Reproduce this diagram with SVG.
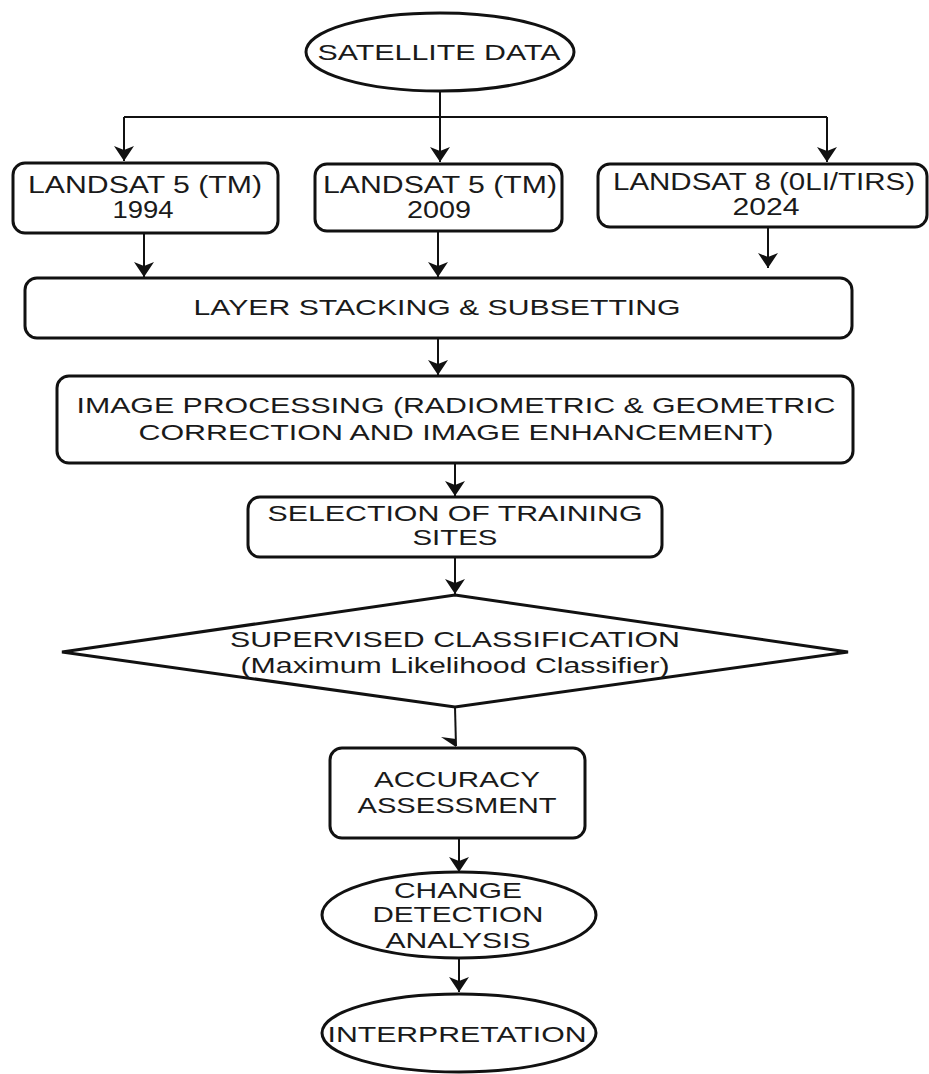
<svg xmlns="http://www.w3.org/2000/svg" width="929" height="1074" viewBox="0 0 929 1074">
<style>
.shape{fill:#fff;stroke:#111;stroke-width:3}
.conn{fill:none;stroke:#111;stroke-width:2}
text{font-family:"Liberation Sans",Arial,sans-serif;font-size:22px;fill:#1a1a1a;text-anchor:middle}
.big{font-size:23px}
</style>
<defs>
<marker id="arr" markerUnits="userSpaceOnUse" viewBox="0 0 15 20" refX="15" refY="10" markerWidth="15" markerHeight="20" orient="auto">
<path d="M0,0 L15,10 L0,20 L4,10 Z" fill="#111"/>
</marker>
</defs>
<rect width="929" height="1074" fill="#fff"/>
<g id="connectors">
<path class="conn" d="M440,91 V162" marker-end="url(#arr)"/>
<path class="conn" d="M124,117 H827"/>
<path class="conn" d="M124,117 V161" marker-end="url(#arr)"/>
<path class="conn" d="M827,117 V162" marker-end="url(#arr)"/>
<path class="conn" d="M144,233 V277" marker-end="url(#arr)"/>
<path class="conn" d="M438,231 V277" marker-end="url(#arr)"/>
<path class="conn" d="M768,227 V268" marker-end="url(#arr)"/>
<path class="conn" d="M438,338 V375" marker-end="url(#arr)"/>
<path class="conn" d="M455,463 V496" marker-end="url(#arr)"/>
<path class="conn" d="M455,557 V594" marker-end="url(#arr)"/>
<path class="conn" d="M455,707 L456,746"/>
<polygon points="441,737 456,747 456,739" fill="#111"/>
<path class="conn" d="M459,838 V872" marker-end="url(#arr)"/>
<path class="conn" d="M459,958 V992" marker-end="url(#arr)"/>
</g>
<g id="satellite-data">
<ellipse class="shape" cx="440" cy="52" rx="134" ry="39"/>
<text x="439" y="60" textLength="243" lengthAdjust="spacingAndGlyphs">SATELLITE DATA</text>
</g>
<g id="landsat-1994">
<rect class="shape" x="13" y="163" width="265" height="70" rx="12"/>
<text class="big" x="145" y="193" textLength="234" lengthAdjust="spacingAndGlyphs">LANDSAT 5 (TM)</text>
<text class="big" x="143" y="218" textLength="61" lengthAdjust="spacingAndGlyphs">1994</text>
</g>
<g id="landsat-2009">
<rect class="shape" x="315" y="164" width="247" height="67" rx="12"/>
<text class="big" x="440" y="193" textLength="234" lengthAdjust="spacingAndGlyphs">LANDSAT 5 (TM)</text>
<text class="big" x="439" y="218" textLength="64" lengthAdjust="spacingAndGlyphs">2009</text>
</g>
<g id="landsat-2024">
<rect class="shape" x="598" y="164" width="329" height="63" rx="12"/>
<text class="big" x="764" y="190" textLength="302" lengthAdjust="spacingAndGlyphs">LANDSAT 8 (0LI/TIRS)</text>
<text class="big" x="766" y="215" textLength="67" lengthAdjust="spacingAndGlyphs">2024</text>
</g>
<g id="layer-stacking">
<rect class="shape" x="25" y="278" width="827" height="60" rx="12"/>
<text x="437" y="315" textLength="487" lengthAdjust="spacingAndGlyphs">LAYER STACKING &amp; SUBSETTING</text>
</g>
<g id="image-processing">
<rect class="shape" x="57" y="376" width="796" height="87" rx="12"/>
<text x="456" y="413" textLength="759" lengthAdjust="spacingAndGlyphs">IMAGE PROCESSING (RADIOMETRIC &amp; GEOMETRIC</text>
<text x="456" y="440" textLength="635" lengthAdjust="spacingAndGlyphs">CORRECTION AND IMAGE ENHANCEMENT)</text>
</g>
<g id="training-sites">
<rect class="shape" x="248" y="497" width="414" height="60" rx="12"/>
<text x="455" y="521" textLength="375" lengthAdjust="spacingAndGlyphs">SELECTION OF TRAINING</text>
<text x="455" y="545" textLength="85" lengthAdjust="spacingAndGlyphs">SITES</text>
</g>
<g id="supervised-classification">
<polygon class="shape" points="455,595 848,652 455,707 62,652"/>
<text x="455" y="647" textLength="450" lengthAdjust="spacingAndGlyphs">SUPERVISED CLASSIFICATION</text>
<text x="455" y="673" textLength="429" lengthAdjust="spacingAndGlyphs">(Maximum Likelihood Classifier)</text>
</g>
<g id="accuracy-assessment">
<rect class="shape" x="330" y="748" width="255" height="90" rx="12"/>
<text x="457" y="787" textLength="166" lengthAdjust="spacingAndGlyphs">ACCURACY</text>
<text x="457" y="813" textLength="199" lengthAdjust="spacingAndGlyphs">ASSESSMENT</text>
</g>
<g id="change-detection">
<ellipse class="shape" cx="459" cy="915" rx="137" ry="43"/>
<text x="458" y="898" textLength="128" lengthAdjust="spacingAndGlyphs">CHANGE</text>
<text x="458" y="922" textLength="171" lengthAdjust="spacingAndGlyphs">DETECTION</text>
<text x="458" y="948" textLength="145" lengthAdjust="spacingAndGlyphs">ANALYSIS</text>
</g>
<g id="interpretation">
<ellipse class="shape" cx="459" cy="1033" rx="137" ry="39"/>
<text x="457" y="1042" textLength="259" lengthAdjust="spacingAndGlyphs">INTERPRETATION</text>
</g>
</svg>
